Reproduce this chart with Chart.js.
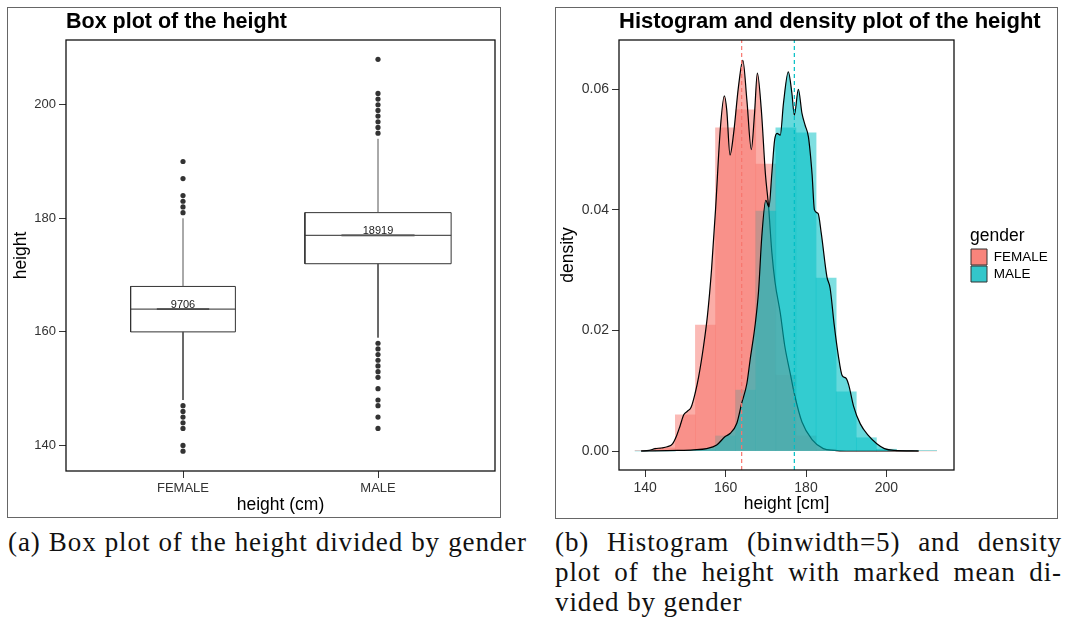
<!DOCTYPE html>
<html>
<head>
<meta charset="utf-8">
<script src="https://cdn.jsdelivr.net/npm/chart.js@4.4.1/dist/chart.umd.min.js"></script>
<style>
  body { margin: 0; background: #fff; width: 1076px; height: 620px; position: relative; overflow: hidden; }
  canvas { position: absolute; top: 0; }
  .frame { position: absolute; border: 1px solid #666; }
  .cap { position: absolute; font-family: "Liberation Serif", serif; font-size: 27px; line-height: 30px; color: #111; }
  .just { text-align: justify; text-align-last: justify; }
</style>
</head>
<body>
<div class="frame" style="left:7px;top:7px;width:492px;height:509px"></div>
<div class="frame" style="left:555px;top:7px;width:501px;height:510px"></div>
<canvas id="box" width="540" height="525" style="left:0"></canvas>
<canvas id="hist" width="531" height="525" style="left:545px"></canvas>
<div class="cap just" style="left:8px;top:527px;width:519px;letter-spacing:0.9px">(a) Box plot of the height divided by gender</div>
<div class="cap" style="left:555px;top:527px;width:507px;letter-spacing:0.9px">
  <div class="just">(b) Histogram (binwidth=5) and density</div>
  <div class="just">plot of the height with marked mean di-</div>
  <div>vided by gender</div>
</div>
<script>
// ---- box plot data ----
const categories = ['FEMALE', 'MALE'];
const counts = [9706, 18919];
const q1 = [160, 172];
const medians = [164, 177];
const q3 = [168, 181];
const whiskerLow = [148, 159];
const whiskerHigh = [180, 194];
const femaleOutliers = [139, 140, 143, 144, 145, 146, 147, 181, 182, 183, 184, 187, 190];
const maleOutliers = [143, 145, 147, 148, 150, 152, 153, 154, 155, 156, 157, 158,
  195, 196, 197, 198, 199, 200, 201, 202, 208];
const boxTicks = [140, 160, 180, 200];

// ---- histogram / density data ----
const binCenters = [140, 145, 150, 155, 160, 165, 170, 175, 180, 185, 190, 195, 200, 205, 210];
const femaleHist = [0.0001, 0.0005, 0.006, 0.0209, 0.0536, 0.0566, 0.0476, 0.0126, 0.0025, 0.0003, 0, 0, 0, 0, 0];
const maleHist = [0, 0, 0.0001, 0.0003, 0.0025, 0.0101, 0.0398, 0.0536, 0.0528, 0.0287, 0.0098, 0.0022, 0.0003, 0.0001, 0.0001];

const femaleDensX = [139, 141, 142.5, 144, 145.5, 146.8, 147.8, 148.7, 149.6, 150.5,
  151.4, 152.4, 153.3, 154.5, 155.5, 156.5, 157.5, 158.7, 159.7, 160.3,
  161.1, 162, 163.2, 164.3, 165.3, 166.4, 167.2, 167.9, 168.9, 169.9,
  170.7, 171.5, 172.3, 173.6, 174.7, 176.1, 177.1, 179, 181.5, 184.3,
  187, 190, 208];
const femaleDensY = [0, 0.0001, 0.0004, 0.0005, 0.0007, 0.0012, 0.0025, 0.0042, 0.0060, 0.0066,
  0.0072, 0.0095, 0.0123, 0.0173, 0.0225, 0.0300, 0.0400, 0.0535, 0.0589, 0.0565,
  0.0491, 0.0527, 0.0604, 0.0648, 0.0582, 0.0500, 0.0560, 0.0627, 0.0565, 0.0460,
  0.0405, 0.0330, 0.0280, 0.0229, 0.0175, 0.0128, 0.0095, 0.0048, 0.0019, 0.0004,
  0.0001, 0, 0];

const maleDensX = [139, 148, 152, 155.3, 157.8, 159.9, 161.1, 162.8, 164, 165.3,
  166.1, 167.4, 168.2, 169, 170, 170.8, 171.5, 172.2, 172.8, 173.6,
  174.4, 175.6, 176.5, 177.1, 178.1, 179, 179.8, 180.6, 181.5, 182.1,
  183, 183.8, 185.2, 186, 187, 188, 189, 189.9, 190.6, 191.8,
  193.5, 195.6, 197.6, 199.5, 202, 208];
const maleDensY = [0, 0.0001, 0.0002, 0.0004, 0.0010, 0.0024, 0.0029, 0.0046, 0.0079, 0.0112,
  0.0151, 0.0212, 0.0265, 0.0355, 0.0416, 0.0405, 0.0460, 0.0516, 0.0527, 0.0524,
  0.0577, 0.0629, 0.0593, 0.0557, 0.0600, 0.0560, 0.0540, 0.0521, 0.0460, 0.0400,
  0.0394, 0.0361, 0.0289, 0.0270, 0.0210, 0.0160, 0.0125, 0.0121, 0.0110, 0.0075,
  0.0045, 0.0025, 0.0012, 0.0004, 0.0001, 0];

const genderMeans = [164.0, 177.1];
const heightTicks = [140, 160, 180, 200];
const densityTicks = [0, 0.02, 0.04, 0.06];

Chart.defaults.font.family = '"Liberation Sans", Arial, sans-serif';
Chart.defaults.color = '#333';

// frame around the plotting area + title at the left edge of the panel
const panelDeco = {
  id: 'panelDeco',
  afterDraw(chart) {
    const { ctx, chartArea: a } = chart;
    const opt = chart.options.plugins.panelDeco;
    ctx.save();
    ctx.strokeStyle = '#111';
    ctx.lineWidth = 1.3;
    ctx.strokeRect(a.left, a.top, a.right - a.left, a.bottom - a.top);
    ctx.fillStyle = '#000';
    ctx.font = 'bold ' + opt.size + 'px "Liberation Sans", Arial, sans-serif';
    ctx.textBaseline = 'middle';
    ctx.textAlign = 'left';
    ctx.fillText(opt.title, a.left, 22);
    ctx.restore();
  }
};

const countLabels = {
  id: 'countLabels',
  afterDatasetsDraw(chart) {
    const { ctx, scales: { x, y } } = chart;
    ctx.save();
    ctx.font = '11px "Liberation Sans", Arial, sans-serif';
    ctx.fillStyle = '#222';
    ctx.textAlign = 'center';
    ctx.textBaseline = 'alphabetic';
    counts.forEach((n, i) => {
      ctx.fillText(String(n), x.getPixelForValue(i + 1), y.getPixelForValue(medians[i]) - 1.5);
    });
    ctx.restore();
  }
};

const tickGrid = { drawOnChartArea: false, drawTicks: true, tickLength: 7, color: '#333', lineWidth: 1 };

// ---- box plot ----
const maxN = Math.max(...counts);
const boxSets = [];
categories.forEach((c, i) => {
  const x = i + 1;
  const h = 0.375 * Math.sqrt(counts[i] / maxN);
  const line = (pts, w, col) => ({
    data: pts, showLine: true, borderColor: col || '#333', borderWidth: w || 1,
    pointRadius: 0, fill: false, tension: 0
  });
  boxSets.push(line([{ x, y: q3[i] }, { x, y: whiskerHigh[i] }], 1, '#555'));
  boxSets.push(line([{ x, y: q1[i] }, { x, y: whiskerLow[i] }], 1, '#555'));
  boxSets.push(line([
    { x: x - h, y: q1[i] }, { x: x + h, y: q1[i] }, { x: x + h, y: q3[i] },
    { x: x - h, y: q3[i] }, { x: x - h, y: q1[i] }
  ], 1, '#333'));
  boxSets.push(line([{ x: x - h, y: medians[i] }, { x: x + h, y: medians[i] }], 1.2, '#555'));
  boxSets.push(line([{ x: x - h / 2, y: medians[i] }, { x: x + h / 2, y: medians[i] }], 1.8, '#333'));
});
[femaleOutliers, maleOutliers].forEach((arr, i) => {
  boxSets.push({
    data: arr.map(v => ({ x: i + 1, y: v })),
    showLine: false, pointRadius: 2.6, pointBackgroundColor: '#333', pointBorderWidth: 0
  });
});

new Chart(document.getElementById('box'), {
  type: 'scatter',
  data: { datasets: boxSets },
  options: {
    responsive: false,
    animation: false,
    layout: { padding: { left: 0, right: 45, top: 40, bottom: 4 } },
    plugins: {
      legend: { display: false },
      tooltip: { enabled: false },
      panelDeco: { title: 'Box plot of the height', size: 21.5 }
    },
    scales: {
      x: {
        type: 'linear', min: 0.4, max: 2.6, offset: false,
        afterBuildTicks: s => { s.ticks = categories.map((c, i) => ({ value: i + 1 })); },
        ticks: { callback: v => categories[v - 1] || '', font: { size: 13 }, color: '#333', padding: 3, maxRotation: 0, autoSkip: false },
        grid: tickGrid,
        border: { display: false },
        title: { display: true, text: 'height (cm)', font: { size: 17.5 }, color: '#000', padding: { top: 0, bottom: 5.5 } },
        afterFit: s => { s.height = 50; }
      },
      y: {
        type: 'linear', min: 135.5, max: 211.4,
        afterBuildTicks: s => { s.ticks = boxTicks.map(v => ({ value: v })); },
        ticks: { font: { size: 13 }, color: '#333', padding: 3 },
        grid: tickGrid,
        border: { display: false },
        title: { display: true, text: 'height', font: { size: 17.5 }, color: '#000', padding: { top: 10.5, bottom: 0 } },
        afterFit: s => { s.width = 66; }
      }
    }
  },
  plugins: [panelDeco, countLabels]
});

// ---- histogram + density ----
const yMin = -0.00315, yMax = 0.06818;
const keyColors = ['#f8847b', '#33c6ca'];
const pts = (xs, ys) => xs.map((x, i) => ({ x, y: ys[i] }));

new Chart(document.getElementById('hist'), {
  type: 'scatter',
  data: {
    datasets: [
      { type: 'line', label: 'FEMALE', data: pts(femaleDensX, femaleDensY), borderColor: '#000', borderWidth: 1.2,
        backgroundColor: 'rgba(248,118,109,0.6)', fill: 'origin', pointRadius: 0, cubicInterpolationMode: 'monotone', order: 2 },
      { type: 'line', label: 'MALE', data: pts(maleDensX, maleDensY), borderColor: '#000', borderWidth: 1.2,
        backgroundColor: 'rgba(0,191,196,0.6)', fill: 'origin', pointRadius: 0, cubicInterpolationMode: 'monotone', order: 1 },
      { type: 'bar', label: 'FEMALE bins', data: pts(binCenters, femaleHist), backgroundColor: 'rgba(248,118,109,0.5)',
        borderWidth: 0, barPercentage: 1, categoryPercentage: 1, grouped: false, order: 4 },
      { type: 'bar', label: 'MALE bins', data: pts(binCenters, maleHist), backgroundColor: 'rgba(0,191,196,0.5)',
        borderWidth: 0, barPercentage: 1, categoryPercentage: 1, grouped: false, order: 3 },
      { type: 'line', label: 'FEMALE mean', data: [{ x: genderMeans[0], y: yMin }, { x: genderMeans[0], y: yMax }],
        borderColor: '#F8766D', borderDash: [4, 3], borderWidth: 1.2, pointRadius: 0, fill: false, order: 0 },
      { type: 'line', label: 'MALE mean', data: [{ x: genderMeans[1], y: yMin }, { x: genderMeans[1], y: yMax }],
        borderColor: '#00BFC4', borderDash: [4, 3], borderWidth: 1.2, pointRadius: 0, fill: false, order: 0 }
    ]
  },
  options: {
    responsive: false,
    animation: false,
    layout: { padding: { left: 0, right: 21, top: 40, bottom: 4 } },
    plugins: {
      tooltip: { enabled: false },
      panelDeco: { title: 'Histogram and density plot of the height', size: 22 },
      legend: {
        position: 'right', align: 'center', fullSize: false, maxWidth: 85,
        title: { display: true, text: 'gender', font: { size: 17.5 }, color: '#000', position: 'start', padding: 0 },
        labels: {
          boxWidth: 16, boxHeight: 16, padding: 1, font: { size: 13.5 }, color: '#000',
          generateLabels(chart) {
            return Chart.defaults.plugins.legend.labels.generateLabels(chart)
              .filter(it => it.datasetIndex < 2)
              .sort((a, b) => a.datasetIndex - b.datasetIndex)
              .map(it => Object.assign(it, { fillStyle: keyColors[it.datasetIndex], strokeStyle: '#333', lineWidth: 1 }));
          }
        }
      }
    },
    scales: {
      x: {
        type: 'linear', min: 133.5, max: 216.8, offset: false,
        afterBuildTicks: s => { s.ticks = heightTicks.map(v => ({ value: v })); },
        ticks: { font: { size: 14 }, color: '#333', padding: 3, maxRotation: 0 },
        grid: Object.assign({}, tickGrid, { offset: false }),
        border: { display: false },
        title: { display: true, text: 'height [cm]', font: { size: 17.5 }, color: '#000', padding: { top: 0, bottom: 6.5 } },
        afterFit: s => { s.height = 51; }
      },
      y: {
        type: 'linear', min: yMin, max: yMax,
        afterBuildTicks: s => { s.ticks = densityTicks.map(v => ({ value: v })); },
        ticks: { font: { size: 14 }, color: '#333', padding: 3, callback: v => v.toFixed(2) },
        grid: tickGrid,
        border: { display: false },
        title: { display: true, text: 'density', font: { size: 17.5 }, color: '#000', padding: { top: 12.5, bottom: 0 } },
        afterFit: s => { s.width = 74; }
      },
      spacer: {
        type: 'linear', position: 'right', display: true,
        grid: { display: false }, ticks: { display: false }, border: { display: false },
        afterFit: s => { s.width = 16; }
      }
    }
  },
  plugins: [panelDeco]
});
</script>
</body>
</html>
